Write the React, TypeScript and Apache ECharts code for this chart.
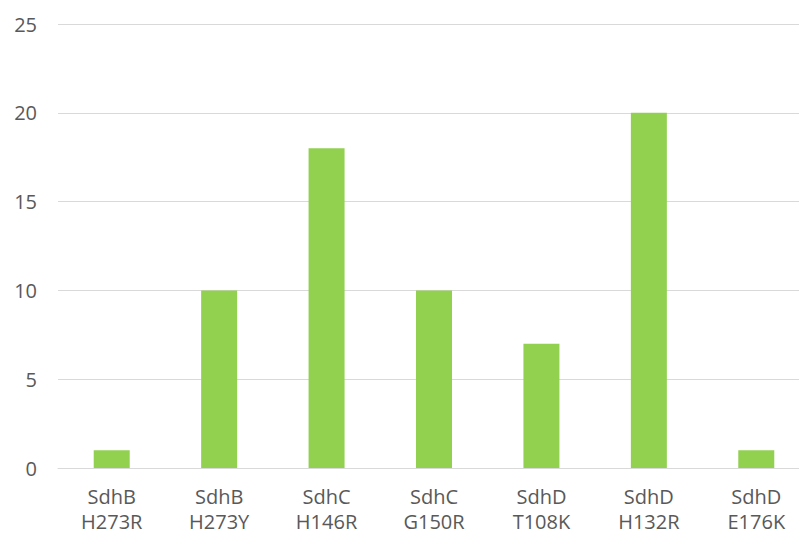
import React, { useEffect, useRef } from "react";
import * as echarts from "echarts";

const categories = [
  "SdhB\nH273R",
  "SdhB\nH273Y",
  "SdhC\nH146R",
  "SdhC\nG150R",
  "SdhD\nT108K",
  "SdhD\nH132R",
  "SdhD\nE176K",
];
const values = [1, 10, 18, 10, 7, 20, 1];

export default function App() {
  const ref = useRef<HTMLDivElement>(null);
  useEffect(() => {
    if (!ref.current) return;
    const chart = echarts.init(ref.current, null, { renderer: "svg" });
    chart.setOption({
      animation: false,
      grid: { left: 58, right: 0, top: 24, bottom: 67, containLabel: false, outerBoundsMode: "none" },
      xAxis: {
        type: "category",
        data: categories,
        axisLine: { lineStyle: { color: "#d9d9d9", width: 1 } },
        axisTick: { show: false },
        axisLabel: {
          color: "#595959",
          fontFamily: "Open Sans",
          fontSize: 20,
          lineHeight: 25,
          margin: 16,
        },
      },
      yAxis: {
        type: "value",
        min: 0,
        max: 25,
        interval: 5,
        axisLine: { show: false },
        axisTick: { show: false },
        splitLine: { lineStyle: { color: "#d9d9d9", width: 1 } },
        axisLabel: {
          color: "#595959",
          fontFamily: "Open Sans",
          fontSize: 20,
          margin: 21,
        },
      },
      series: [
        {
          type: "bar",
          data: values,
          barWidth: "33.5%",
          itemStyle: { color: "#92D050" },
        },
      ],
    });
    return () => chart.dispose();
  }, []);
  return (
    <div style={{ position: "fixed", left: 0, top: 0, width: 799, height: 535, overflow: "hidden", background: "#fff" }}>
      <div ref={ref} style={{ position: "absolute", left: 0, top: 0, width: 810, height: 535 }} />
    </div>
  );
}
